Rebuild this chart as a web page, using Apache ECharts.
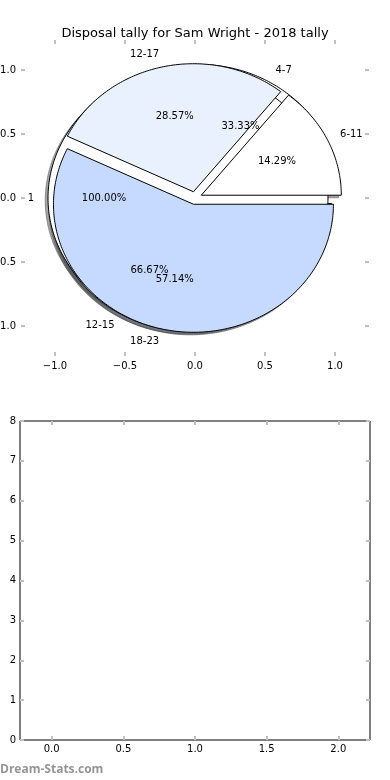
<!DOCTYPE html>
<html><head><meta charset="utf-8">
<script src="https://cdn.jsdelivr.net/npm/echarts@6/dist/echarts.min.js"></script>
<style>html,body{margin:0;padding:0;background:#fff}#c{width:390px;height:780px}</style>
</head><body><div id="c"></div>
<script>
const titleText = 'Disposal tally for Sam Wright - 2018 tally';
const pieALabels = ['1'];
const pieAValues = [1];
const pieBLabels = ['4-7', '12-15'];
const pieBValues = [1, 2];
const pieCLabels = ['6-11', '12-17', '18-23'];
const pieCValues = [1, 2, 4];
const pieTicks = [-1.0, -0.5, 0.0, 0.5, 1.0];
const lowerXTicks = [0.0, 0.5, 1.0, 1.5, 2.0];
const lowerYTicks = [0, 1, 2, 3, 4, 5, 6, 7, 8];

const pieColors = [['#ffffff'], ['#ffffff', '#ffffff'], ['#ffffff', '#eaf1fe', '#c6d9fe']];
const drawOrder = [1, 0, 2];
const EXPLODE = 0.05, LABEL_R = 1.1, PCT_R = 0.6, SHADOW_OFF = 0.02;
const FONT = 'DejaVu Sans';
const TICK_COLOR = '#c0c0c0';

const pies = [[pieALabels, pieAValues], [pieBLabels, pieBValues], [pieCLabels, pieCValues]];
const wedges = [];
drawOrder.forEach(p => {
  const [labs, vals] = pies[p];
  const total = vals.reduce((a, b) => a + b, 0);
  let acc = 0;
  vals.forEach((v, i) => {
    const t1 = acc / total * 360; acc += v; const t2 = acc / total * 360;
    const mid = (t1 + t2) / 2 * Math.PI / 180;
    wedges.push({
      p, i, t1, t2, mid,
      cx: EXPLODE * Math.cos(mid), cy: EXPLODE * Math.sin(mid),
      label: labs[i], pct: (v / total * 100).toFixed(2) + '%',
      color: pieColors[p][i]
    });
  });
});

function wedgePoints(w, api, dx, dy) {
  const pts = [];
  const full = (w.t2 - w.t1) >= 359.999;
  if (!full) pts.push(api.coord([w.cx + dx, w.cy + dy]));
  const n = Math.max(4, Math.ceil(w.t2 - w.t1));
  for (let k = 0; k <= n; k++) {
    const a = (w.t1 + (w.t2 - w.t1) * k / n) * Math.PI / 180;
    pts.push(api.coord([w.cx + dx + Math.cos(a), w.cy + dy + Math.sin(a)]));
  }
  return pts;
}
function shade(hex) {
  const r = parseInt(hex.slice(1, 3), 16), g = parseInt(hex.slice(3, 5), 16), b = parseInt(hex.slice(5, 7), 16);
  return 'rgba(' + Math.round(r * 0.3) + ',' + Math.round(g * 0.3) + ',' + Math.round(b * 0.3) + ',0.5)';
}
const fmt1 = v => (Math.abs(v) < 1e-9 ? '0.0' : (v < 0 ? '\u2212' : '') + Math.abs(v).toFixed(1));

const tickStyle = { show: true, inside: true, length: 4, lineStyle: { color: TICK_COLOR, width: 2 } };
const lblStyle = { color: '#000', fontSize: 10, fontFamily: FONT };
const noLine = { show: true, onZero: false, lineStyle: { color: 'rgba(0,0,0,0)' } };
const wedgeData = wedges.map(w => [w.cx, w.cy]);

const chart = echarts.init(document.getElementById('c'), null, { renderer: 'canvas' });
chart.setOption({
  animation: false,
  backgroundColor: '#fff',
  title: { text: titleText, left: 'center', top: 22, textStyle: { fontSize: 13, fontWeight: 'normal', color: '#000', fontFamily: FONT } },
  graphic: [{ type: 'text', left: 0, top: 764, style: { text: 'Dream-Stats.com', fill: '#959595', fontSize: 12, fontWeight: 'bold', fontFamily: 'Open Sans' } }],
  grid: [
    { left: 21, right: 21, top: 40, bottom: 424, outerBoundsMode: 'none', containLabel: false },
    { left: 20, right: 20, top: 421, bottom: 40, outerBoundsMode: 'none', containLabel: false, show: true, borderColor: '#000', borderWidth: 1, backgroundColor: 'transparent' }
  ],
  xAxis: [
    { type: 'value', gridIndex: 0, min: -1.243, max: 1.243, position: 'bottom', axisLine: noLine, splitLine: { show: false },
      axisTick: Object.assign({ customValues: pieTicks }, tickStyle),
      axisLabel: Object.assign({ customValues: pieTicks, formatter: fmt1, margin: 5 }, lblStyle) },
    { type: 'value', gridIndex: 0, min: -1.243, max: 1.243, position: 'top', axisLine: noLine, splitLine: { show: false },
      axisTick: Object.assign({ customValues: pieTicks }, tickStyle), axisLabel: { show: false, customValues: pieTicks } },
    { type: 'value', gridIndex: 1, min: -0.221, max: 2.221, position: 'bottom', axisLine: noLine, splitLine: { show: false },
      axisTick: Object.assign({ customValues: lowerXTicks }, tickStyle),
      axisLabel: Object.assign({ customValues: lowerXTicks, formatter: fmt1, margin: 4 }, lblStyle) },
    { type: 'value', gridIndex: 1, min: -0.221, max: 2.221, position: 'top', axisLine: noLine, splitLine: { show: false },
      axisTick: Object.assign({ customValues: lowerXTicks }, tickStyle), axisLabel: { show: false, customValues: lowerXTicks } }
  ],
  yAxis: [
    { type: 'value', gridIndex: 0, min: -1.234, max: 1.234, position: 'left', axisLine: noLine, splitLine: { show: false },
      axisTick: Object.assign({ customValues: pieTicks }, tickStyle),
      axisLabel: Object.assign({ customValues: pieTicks, formatter: fmt1, margin: 5 }, lblStyle) },
    { type: 'value', gridIndex: 0, min: -1.234, max: 1.234, position: 'right', axisLine: noLine, splitLine: { show: false },
      axisTick: Object.assign({ customValues: pieTicks }, tickStyle), axisLabel: { show: false, customValues: pieTicks } },
    { type: 'value', gridIndex: 1, min: 0, max: 8, interval: 1, position: 'left', axisLine: noLine, splitLine: { show: false },
      axisTick: Object.assign({ customValues: lowerYTicks }, tickStyle),
      axisLabel: Object.assign({ customValues: lowerYTicks, formatter: v => String(v), margin: 4 }, lblStyle) },
    { type: 'value', gridIndex: 1, min: 0, max: 8, interval: 1, position: 'right', axisLine: noLine, splitLine: { show: false },
      axisTick: Object.assign({ customValues: lowerYTicks }, tickStyle), axisLabel: { show: false, customValues: lowerYTicks } }
  ],
  series: [
    { type: 'custom', name: 'shadow', xAxisIndex: 0, yAxisIndex: 0, z: 1, clip: false, silent: true, data: wedgeData,
      renderItem: (params, api) => {
        const w = wedges[params.dataIndex];
        const c = shade(w.color);
        return { type: 'polygon', shape: { points: wedgePoints(w, api, -SHADOW_OFF, -SHADOW_OFF) }, style: { fill: c, stroke: c, lineWidth: 1 } };
      } },
    { type: 'custom', name: 'wedges', xAxisIndex: 0, yAxisIndex: 0, z: 2, clip: false, silent: true, data: wedgeData,
      renderItem: (params, api) => {
        const w = wedges[params.dataIndex];
        return { type: 'polygon', shape: { points: wedgePoints(w, api, 0, 0) }, style: { fill: w.color, stroke: '#000', lineWidth: 1 } };
      } },
    { type: 'custom', name: 'labels', xAxisIndex: 0, yAxisIndex: 0, z: 3, clip: false, silent: true, data: wedgeData,
      renderItem: (params, api) => {
        const w = wedges[params.dataIndex];
        const lx = w.cx + LABEL_R * Math.cos(w.mid), ly = w.cy + LABEL_R * Math.sin(w.mid);
        const px = w.cx + PCT_R * Math.cos(w.mid), py = w.cy + PCT_R * Math.sin(w.mid);
        const lp = api.coord([lx, ly]), pp = api.coord([px, py]);
        return { type: 'group', children: [
          { type: 'text', x: lp[0], y: lp[1], style: { text: w.label, fill: '#000', fontSize: 10, fontFamily: FONT, align: lx > 0 ? 'left' : 'right', verticalAlign: 'middle' } },
          { type: 'text', x: pp[0], y: pp[1], style: { text: w.pct, fill: '#000', fontSize: 10, fontFamily: FONT, align: 'center', verticalAlign: 'middle' } }
        ] };
      } }
  ]
});
</script>
</body></html>
